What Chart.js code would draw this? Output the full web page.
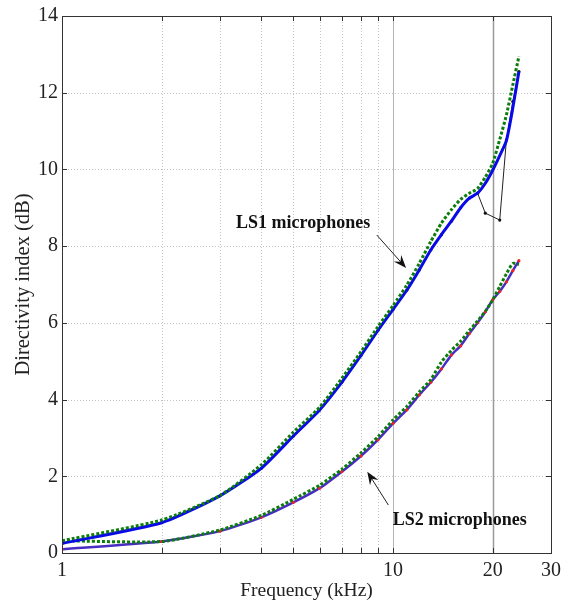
<!DOCTYPE html>
<html>
<head>
<meta charset="utf-8">
<script src="https://cdn.jsdelivr.net/npm/chart.js@4/dist/chart.umd.min.js"></script>
<style>
  html, body { margin: 0; padding: 0; background: #fff; }
</style>
</head>
<body>
<canvas id="chart" width="565" height="601"></canvas>
<script>
/* data */
const freqs = [1, 2, 3, 4, 5, 6, 7, 8, 9, 10, 11, 12, 13, 14, 15, 16, 17, 18, 19, 20, 21, 22, 23, 24];
const ls1Solid = [0.25, 0.79, 1.49, 2.21, 3.05, 3.73, 4.45, 5.15, 5.8, 6.35, 6.85, 7.38, 7.9, 8.3, 8.65, 9.0, 9.25, 9.38, 9.64, 9.98, 10.36, 10.75, 11.6, 12.55];
const ls1Dashed = [0.32, 0.86, 1.5, 2.3, 3.15, 3.8, 4.55, 5.25, 5.9, 6.45, 6.98, 7.55, 8.12, 8.6, 8.95, 9.22, 9.38, 9.5, 9.8, 10.16, 10.78, 11.42, 12.2, 12.95];
const ls1Ref = [0.25, 0.79, 1.49, 2.21, 3.05, 3.73, 4.45, 5.15, 5.8, 6.35, 6.85, 7.38, 7.9, 8.3, 8.65, 9.0, 9.25, 9.38, 8.86, null, 8.68, 10.77, 11.77, 12.55];
const ls2Solid = [0.1, 0.3, 0.57, 0.93, 1.32, 1.69, 2.12, 2.53, 2.95, 3.38, 3.73, 4.12, 4.45, 4.8, 5.16, 5.4, 5.72, 6.0, 6.29, 6.6, 6.82, 7.07, 7.36, 7.62];
const ls2Dashed = [0.32, 0.3, 0.6, 0.98, 1.4, 1.77, 2.18, 2.61, 3.03, 3.47, 3.82, 4.2, 4.52, 4.98, 5.28, 5.52, 5.8, 6.05, 6.3, 6.6, 6.95, 7.28, 7.55, 7.52];

const xTicks = [1, 2, 3, 4, 5, 6, 7, 8, 9, 10, 20, 30];
const xTickLabels = [1, 10, 20, 30];
const yTicks = [0, 2, 4, 6, 8, 10, 12, 14];

/* annotations, in data coordinates: [freq, dB] */
const notes = [
    { text: 'LS1 microphones', at: [5.35, 8.6], from: [8.93, 8.29], to: [10.95, 7.43] },
    { text: 'LS2 microphones', at: [15.9, 0.86], from: [9.68, 1.25], to: [8.36, 2.12] }
];

const SERIF = '"Liberation Serif", "Times New Roman", serif';

function pts(ys) {
    return freqs.map((f, i) => ({ x: f, y: ys[i] }));
}

function arrow(ctx, x1, y1, x2, y2) {
    const a = Math.atan2(y2 - y1, x2 - x1);
    const len = 13, half = 5;
    ctx.beginPath();
    ctx.moveTo(x1, y1);
    ctx.lineTo(x2 - Math.cos(a) * 6, y2 - Math.sin(a) * 6);
    ctx.strokeStyle = '#222';
    ctx.lineWidth = 1;
    ctx.stroke();
    ctx.beginPath();
    ctx.moveTo(x2, y2);
    ctx.lineTo(x2 - len * Math.cos(a) + half * Math.sin(a), y2 - len * Math.sin(a) - half * Math.cos(a));
    ctx.lineTo(x2 - len * 0.65 * Math.cos(a), y2 - len * 0.65 * Math.sin(a));
    ctx.lineTo(x2 - len * Math.cos(a) - half * Math.sin(a), y2 - len * Math.sin(a) + half * Math.cos(a));
    ctx.closePath();
    ctx.fillStyle = '#111';
    ctx.fill();
}

const overlay = {
    id: 'overlay',
    beforeDatasetsDraw(chart) {
        const { ctx, chartArea: a, scales: { x, y } } = chart;
        ctx.save();
        ctx.lineWidth = 1;
        // horizontal grid
        ctx.setLineDash([1, 2]);
        ctx.strokeStyle = '#c4c4c4';
        yTicks.slice(1, -1).forEach(v => {
            const py = Math.round(y.getPixelForValue(v)) + 0.5;
            ctx.beginPath(); ctx.moveTo(a.left, py); ctx.lineTo(a.right, py); ctx.stroke();
        });
        // vertical grid
        xTicks.slice(1, -1).forEach(v => {
            const px = Math.round(x.getPixelForValue(v)) + 0.5;
            if (v === 10 || v === 20) {
                ctx.setLineDash([]);
                ctx.strokeStyle = v === 20 ? '#9a9a9a' : '#b4b4b4';
                ctx.lineWidth = v === 20 ? 1.5 : 1;
            } else {
                ctx.setLineDash([1, 2]);
                ctx.strokeStyle = '#c4c4c4';
                ctx.lineWidth = 1;
            }
            ctx.beginPath(); ctx.moveTo(px, a.top); ctx.lineTo(px, a.bottom); ctx.stroke();
        });
        ctx.restore();
    },
    afterDraw(chart) {
        const { ctx, chartArea: a, scales: { x, y } } = chart;
        ctx.save();
        // box + inward ticks
        ctx.strokeStyle = '#333';
        ctx.lineWidth = 1;
        ctx.strokeRect(Math.round(a.left) + 0.5, Math.round(a.top) + 0.5, Math.round(a.right - a.left), Math.round(a.bottom - a.top));
        ctx.beginPath();
        yTicks.forEach(v => {
            const py = Math.round(y.getPixelForValue(v)) + 0.5;
            ctx.moveTo(a.left, py); ctx.lineTo(a.left + 5, py);
            ctx.moveTo(a.right, py); ctx.lineTo(a.right - 5, py);
        });
        xTicks.forEach(v => {
            const px = Math.round(x.getPixelForValue(v)) + 0.5;
            ctx.moveTo(px, a.bottom); ctx.lineTo(px, a.bottom - 5);
            ctx.moveTo(px, a.top); ctx.lineTo(px, a.top + 5);
        });
        ctx.stroke();
        // annotations
        ctx.font = 'bold 18px ' + SERIF;
        ctx.fillStyle = '#111';
        ctx.textAlign = 'center';
        ctx.textBaseline = 'middle';
        notes.forEach(n => {
            ctx.fillText(n.text, x.getPixelForValue(n.at[0]), y.getPixelForValue(n.at[1]));
            arrow(ctx, x.getPixelForValue(n.from[0]), y.getPixelForValue(n.from[1]),
                x.getPixelForValue(n.to[0]), y.getPixelForValue(n.to[1]));
        });
        ctx.restore();
    }
};

new Chart(document.getElementById('chart').getContext('2d'), {
    type: 'scatter',
    data: {
        datasets: [
            {
                label: 'LS1 dashed',
                data: pts(ls1Dashed),
                showLine: true,
                borderColor: '#0a7d0a',
                borderWidth: 3,
                borderDash: [3, 2],
                pointRadius: 0,
                tension: 0.2,
                order: 1
            },
            {
                label: 'LS1',
                data: pts(ls1Solid),
                showLine: true,
                borderColor: '#0a0ae6',
                borderWidth: 3,
                pointRadius: 0,
                tension: 0.2,
                order: 2
            },
            {
                label: 'LS1 ref',
                data: pts(ls1Ref),
                showLine: true,
                spanGaps: true,
                borderColor: '#222',
                borderWidth: 1,
                pointRadius: 1.6,
                pointBackgroundColor: '#111',
                pointBorderWidth: 0,
                tension: 0,
                order: 3
            },
            {
                label: 'LS2 dashed',
                data: pts(ls2Dashed),
                showLine: true,
                borderColor: '#0a7d0a',
                borderWidth: 3,
                borderDash: [3, 2],
                pointRadius: 0,
                tension: 0.2,
                order: 4
            },
            {
                label: 'LS2',
                data: pts(ls2Solid),
                showLine: true,
                borderColor: '#4a2cc4',
                borderWidth: 2.5,
                pointRadius: 1.6,
                pointBackgroundColor: '#f0202a',
                pointBorderWidth: 0,
                tension: 0.2,
                order: 5
            }
        ]
    },
    options: {
        responsive: false,
        animation: false,
        layout: { padding: { left: 0, right: 14, top: 16, bottom: 0 } },
        plugins: {
            legend: { display: false },
            tooltip: { enabled: false }
        },
        scales: {
            x: {
                type: 'logarithmic',
                min: 1,
                max: 30,
                afterBuildTicks: s => { s.ticks = xTicks.map(v => ({ value: v })); },
                afterFit: s => { s.height = 48; s.paddingLeft = 0; s.paddingRight = 0; },
                grid: { display: false, drawTicks: false },
                border: { display: false },
                ticks: {
                    autoSkip: false,
                    maxRotation: 0,
                    padding: 6,
                    color: '#222',
                    font: { family: SERIF, size: 20 },
                    callback: v => xTickLabels.includes(v) ? String(v) : ''
                },
                title: {
                    display: true,
                    text: 'Frequency (kHz)',
                    color: '#222',
                    font: { family: SERIF, size: 19.5, lineHeight: 1 },
                    padding: { top: 0, bottom: 0 }
                }
            },
            y: {
                min: 0,
                max: 14,
                afterBuildTicks: s => { s.ticks = yTicks.map(v => ({ value: v })); },
                afterFit: s => { s.width = 62; s.paddingTop = 0; s.paddingBottom = 0; },
                grid: { display: false, drawTicks: false },
                border: { display: false },
                ticks: {
                    padding: 4,
                    color: '#222',
                    font: { family: SERIF, size: 20 }
                },
                title: {
                    display: true,
                    text: 'Directivity index (dB)',
                    color: '#222',
                    font: { family: SERIF, size: 20.5 },
                    padding: { top: 11, bottom: 0 }
                }
            }
        }
    },
    plugins: [overlay]
});
</script>
</body>
</html>
